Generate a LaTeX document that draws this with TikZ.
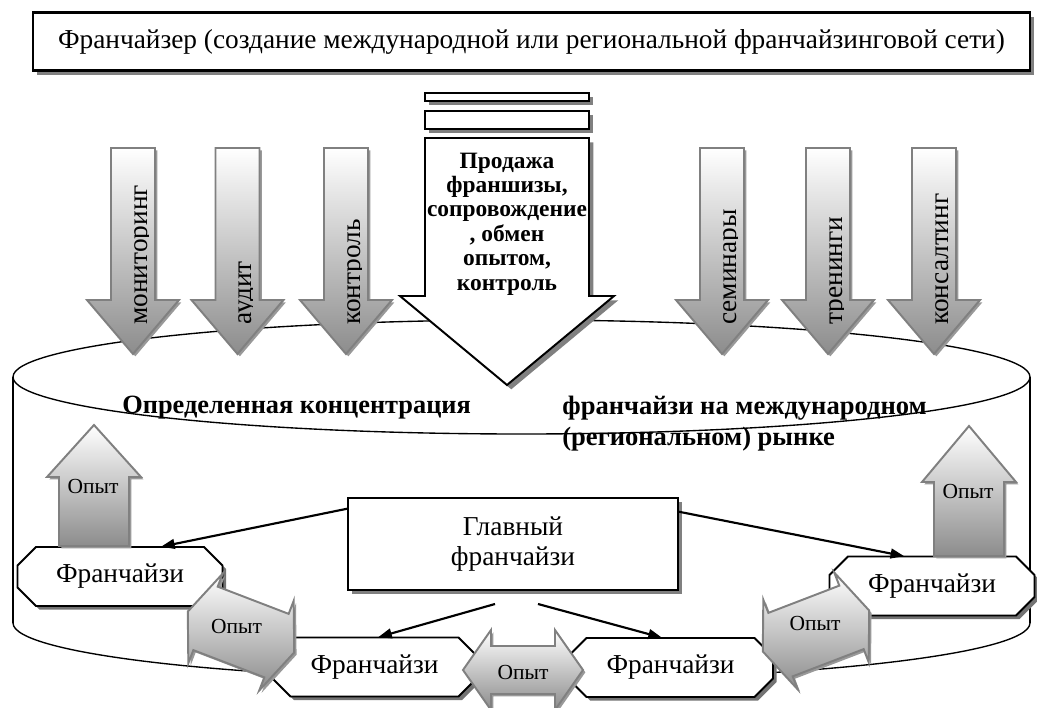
\documentclass[tikz,border=0pt]{standalone}
\usepackage{fontspec}
\setmainfont{Liberation Serif}
\usetikzlibrary{shadows,arrows.meta}

\tikzset{
	shad/.style={drop shadow={shadow xshift=2.2pt,shadow yshift=-2.2pt,fill=black!50,opacity=1}},
	box/.style={draw,line width=1pt,fill=white,shad,inner sep=0pt},
	franch/.style={minimum width=3.69cm,minimum height=1.06cm,inner sep=0pt,font=\fontsize{14}{16}\selectfont},
	octline/.style={line width=1pt,fill=white,
		drop shadow={shadow xshift=1.8pt,shadow yshift=-1.8pt,fill=black!55,opacity=1}},
	grad/.style={draw=black!50,line width=1pt,top color=white,bottom color=black!45,
		drop shadow={shadow xshift=1.2pt,shadow yshift=-1.2pt,fill=black!40,opacity=1}},
	conn/.style={line width=1.1pt,-{Triangle[length=7pt,width=5pt]}},
	bold/.style={font=\fontsize{13.5}{16}\selectfont\bfseries,inner sep=0pt},
	opyt/.style={font=\fontsize{11}{13}\selectfont,inner sep=0pt},
	pics/octo/.style={code={
		\filldraw[octline] (-84,-29.5) -- (84,-29.5) -- (102.5,-11) -- (102.5,11) -- (84,29.5) -- (-84,29.5) -- (-102.5,11) -- (-102.5,-11) -- cycle;
	}},
	pics/downarr/.style={code={
		\filldraw[grad] (-22,0) -- (22,0) -- (22,152) -- (46,152) -- (0,206) -- (-46,152) -- (-22,152) -- cycle;
		\begin{scope}
			\clip (-22,0) rectangle (15,206);
			\node[rotate=90,anchor=base west,inner sep=0pt,font=\fontsize{14}{16}\selectfont] (-lbl) at (14,177) {#1};
		\end{scope}
	}},
	pics/dblarr/.style={code={
		\filldraw[grad] (-57,0) -- (-38,-48) -- (-38,-34) -- (38,-34) -- (38,-48) -- (57,0) -- (38,48) -- (38,34) -- (-38,34) -- (-38,48) -- cycle;
	}}
}

\begin{document}
\begin{tikzpicture}[x=0.018cm,y=-0.018cm]
	\useasboundingbox (0,0) rectangle (1037,708);
	% market cylinder
	\draw[line width=.7pt] (521.5,377) ellipse [x radius=508.5,y radius=57];
	\draw[line width=.7pt] (13,377) -- (13,623);
	\draw[line width=.7pt] (1030,377) -- (1030,623);
	\begin{scope}
		\clip (0,623) rectangle (1037,708);
		\draw[line width=.7pt] (521.5,623) ellipse [x radius=508.5,y radius=57];
	\end{scope}
	\node[bold,anchor=base west] (conc) at (122,413) {Определенная концентрация};
	\node[bold,anchor=north west,align=left,font=\fontsize{13.6}{15.9}\selectfont\bfseries] (mkt) at (562,396) {франчайзи на международном\\(региональном) рынке};

	% franchisor
	\node[box,minimum width=17.95cm,minimum height=1.04cm,line width=1.2pt,font=\fontsize{14}{18}\selectfont] (frz) at (531.5,41.5) {Франчайзер (создание международной или региональной франчайзинговой сети)};
	\node[box,minimum width=2.95cm,minimum height=0.144cm,line width=.8pt] (bar1) at (507,97) {};
	\node[box,minimum width=2.95cm,minimum height=0.324cm,line width=.8pt] (bar2) at (507,120) {};
	\filldraw[line width=1pt,fill=white,shad] (425,138) -- (589,138) -- (589,296) -- (614,296) -- (507,385) -- (400,296) -- (425,296) -- cycle;
	\node[align=center,font=\fontsize{12}{12.5}\selectfont\bfseries] (sale) at (507,224) {Продажа\\франшизы,\\сопровождение\\, обмен\\опытом,\\контроль};

	\pic (mon) at (133,148) {downarr=мониторинг};
	\pic (aud) at (237.5,148) {downarr=аудит};
	\pic (ctl) at (346,148) {downarr=контроль};
	\pic (sem) at (722,148) {downarr=семинары};
	\pic (trn) at (828,148) {downarr=тренинги};
	\pic (cns) at (934,148) {downarr=консалтинг};

	% franchisees
	\node[box,minimum width=5.94cm,minimum height=1.656cm,align=center,font=\fontsize{14}{15.4}\selectfont] (glav) at (513,544) {Главный\\франчайзи};
	\pic at (120,576.5) {octo};
	\node[franch] (fleft) at (120,576.5) {Франчайзи};
	\pic at (932,586) {octo};
	\node[franch] (fright) at (932,586) {Франчайзи};
	\pic at (374.5,667) {octo};
	\node[franch] (fbotl) at (374.5,667) {Франчайзи};
	\pic at (670.5,667.5) {octo};
	\node[franch] (fbotr) at (670.5,667.5) {Франчайзи};

	\coordinate (sl) at (495,604);
	\coordinate (sr) at (538,604);
	\draw[conn] (glav.168) -- (fleft.36);
	\draw[conn] (glav.11) -- (fright.133);
	\draw[conn] (sl) -- (fbotl.83);
	\draw[conn] (sr) -- (fbotr.106);

	% experience
	\filldraw[grad] (94,425) -- (141,477) -- (129,477) -- (129,546) -- (59,546) -- (59,477) -- (47,477) -- cycle;
	\node[opyt] (oleft) at (93,486) {Опыт};
	\filldraw[grad] (969,426) -- (1016,482) -- (1004,482) -- (1004,556) -- (934,556) -- (934,482) -- (922,482) -- cycle;
	\node[opyt] (oright) at (968,491) {Опыт};
	\pic[rotate=-21] at (241,632) {dblarr};
	\node[opyt] (odl) at (236.5,626) {Опыт};
	\pic[rotate=21] at (816,631) {dblarr};
	\node[opyt] (odr) at (815,623) {Опыт};
	\filldraw[grad] (463,670) -- (491,630) -- (491,646) -- (555,646) -- (555,630) -- (583,670) -- (555,710) -- (555,694) -- (491,694) -- (491,710) -- cycle;
	\node[opyt] (obot) at (523,672) {Опыт};
\end{tikzpicture}
\end{document}
